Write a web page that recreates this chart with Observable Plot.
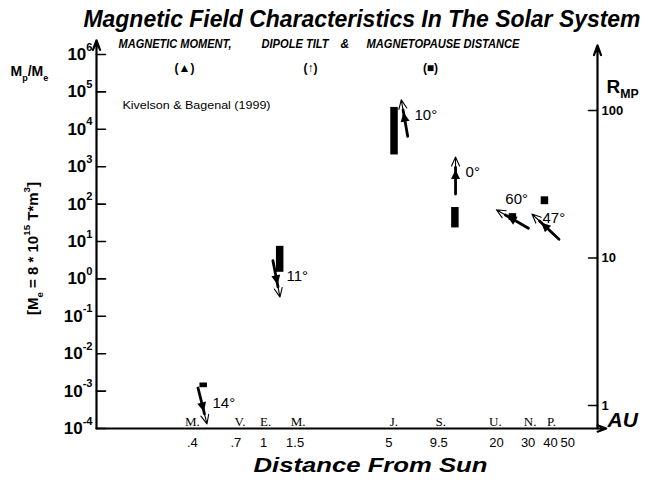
<!DOCTYPE html>
<html>
<head>
<meta charset="utf-8">
<script src="https://cdn.jsdelivr.net/npm/d3@7"></script>
<script src="https://cdn.jsdelivr.net/npm/@observablehq/plot@0.6"></script>
<style>
html, body { margin: 0; padding: 0; background: #fff; }
#chart svg { display: block; }
</style>
</head>
<body>
<div id="chart"></div>
<script>
// ---------------- data ----------------
const planetLetters = ["M", "V", "E", "M", "J", "S", "U", "N", "P"];
const planetAU = [0.39, 0.72, 1, 1.52, 5.2, 9.5, 19.2, 30, 39.5];

const tickAU = [0.4, 0.7, 1, 1.5, 5, 9.5, 20, 30, 40, 50];
const tickAULabels = [".4", ".7", "1", "1.5", "5", "9.5", "20", "30", "40", "50"];

const momentExponents = [-4, -3, -2, -1, 0, 1, 2, 3, 4, 5, 6];
const rmpTicks = [1, 10, 100];

const magPlanets = ["Mercury", "Earth", "Jupiter", "Saturn", "Uranus", "Neptune"];
const magMoment = [4e-4, 1, 2e4, 580, 40, 25];            // Mp / Me
const tiltDeg = [14, 11, 10, 0, 60, 47];                   // dipole tilt
const dipoleSense = ["south", "south", "north", "north", "north", "north"];
const arrowAU = [0.456, 1.18, 6.12, 11.8, 24.5, 37.5];     // AU where the symbols are drawn
const rmpLow = [1.32, 8, 50, 16, 18, 23];                  // magnetopause distance (R_MP)
const rmpHigh = [1.42, 12, 105, 22, 20, 26];
const boxAU = [0.46, 1.23, 5.35, 11.7, 24.5, 37];

// ---------------- layout ----------------
const W = 649, H = 484, ML = 96, MR = 52, MT = 54, MB = 56;
const xDomain = [0.1167, 73.2];
const yDomain = [1e-4, 1e6];
const rmpDomain = [0.698, 240];        // secondary (right) axis domain
const axisTopMomentL = 2.4e6, axisTopMomentR = 1.75e6, axisRightAU = 82;

const SANS = "Liberation Sans, Arial, Helvetica, sans-serif";
const NARROW = "Liberation Sans Narrow, Arial Narrow, Liberation Sans, Arial, sans-serif";
const SERIF = "Liberation Serif, Times New Roman, serif";

const toMoment = r => {
  const l0 = Math.log10(rmpDomain[0]), l1 = Math.log10(rmpDomain[1]);
  const m0 = Math.log10(yDomain[0]), m1 = Math.log10(yDomain[1]);
  return 10 ** (m0 + (m1 - m0) * (Math.log10(r) - l0) / (l1 - l0));
};

const I = d3.range(magPlanets.length);
const rot = i => dipoleSense[i] === "south" ? 180 - tiltDeg[i] : 360 - tiltDeg[i];

const lineShape = {draw(c, l) { c.moveTo(0, 0); c.lineTo(0, -l); }};
const shaftShape = {draw(c, l) { c.moveTo(0, 0); c.lineTo(0, -0.72 * l); }};
const headShape = {draw(c, l) {
  c.moveTo(0, 0); c.lineTo(0, -l);
  c.moveTo(-4, -l + 9); c.lineTo(0, -l); c.lineTo(4, -l + 9);
}};
const triShape = {draw(c, l) {
  const m = -l / 2;
  c.moveTo(0, m - 6); c.lineTo(4.5, m + 3.5); c.lineTo(-4.5, m + 3.5); c.closePath();
}};

const at = (txt, px, py, o = {}) =>
  Plot.text([txt], {frameAnchor: "top-left", dx: px - ML, dy: py - MT, text: d => d,
    fontFamily: SANS, textAnchor: "middle", lineAnchor: "middle", ...o});

const vecBase = {x: i => arrowAU[i], y: i => magMoment[i], rotate: rot, length: 37, anchor: "middle"};
const degText = (filter, dx, dy) => Plot.text(I.filter(filter), {
  x: i => arrowAU[i], y: i => magMoment[i], text: i => `${tiltDeg[i]}°`,
  textAnchor: "start", lineAnchor: "middle", dx, dy, fontSize: 15, fontFamily: SANS
});

const TITLE = "Magnetic Field Characteristics In The Solar System";
const subStyle = {textAnchor: "start", fontSize: 12, fontWeight: "bold", fontStyle: "italic", fontFamily: NARROW};

const chart = Plot.plot({
  width: W, height: H,
  marginLeft: ML, marginRight: MR, marginTop: MT, marginBottom: MB,
  style: {fontFamily: SANS, color: "black", background: "white"},
  x: {type: "log", domain: xDomain, axis: null},
  y: {type: "log", domain: yDomain, axis: null},
  marks: [
    // axes lines
    Plot.arrow([0], {x1: () => xDomain[0], y1: () => yDomain[0], x2: () => xDomain[0], y2: () => axisTopMomentL,
      strokeWidth: 2.2, headLength: 7, headAngle: 40}),
    Plot.arrow([0], {x1: () => xDomain[1], y1: () => yDomain[0], x2: () => xDomain[1], y2: () => axisTopMomentR,
      strokeWidth: 2.2, headLength: 7, headAngle: 40}),
    Plot.arrow([0], {x1: () => xDomain[0], y1: () => yDomain[0], x2: () => axisRightAU, y2: () => yDomain[0],
      strokeWidth: 2, headLength: 7, headAngle: 40}),
    // ticks
    Plot.vector(momentExponents, {y: k => 10 ** k, frameAnchor: "left", rotate: 90, length: 9, anchor: "start",
      shape: lineShape, strokeWidth: 1.6}),
    Plot.vector(rmpTicks, {y: r => toMoment(r), frameAnchor: "right", rotate: 270, length: 9, anchor: "start",
      shape: lineShape, strokeWidth: 1.6}),
    // tick labels
    Plot.text(momentExponents, {y: k => 10 ** k, frameAnchor: "left", dx: -4, textAnchor: "end", lineAnchor: "middle",
      text: k => `10^{${k}}`, fontSize: 17, fontWeight: "bold"}),
    Plot.text(rmpTicks, {y: r => toMoment(r), frameAnchor: "right", dx: 4, textAnchor: "start", lineAnchor: "middle",
      text: r => String(r), fontSize: 13, fontWeight: "bold"}),
    Plot.text(tickAU, {x: d => d, frameAnchor: "bottom", dy: 14, textAnchor: "middle", lineAnchor: "middle",
      text: (d, i) => tickAULabels[i], fontSize: 13}),
    Plot.text(planetLetters, {x: (d, i) => planetAU[i], frameAnchor: "bottom", dy: -7, dx: 2,
      textAnchor: "middle", lineAnchor: "middle",
      text: d => d + ".", fontFamily: SERIF, fontSize: 13}),
    // magnetopause distance boxes
    Plot.ruleX(I, {x: i => boxAU[i], y1: i => toMoment(rmpLow[i]), y2: i => toMoment(rmpHigh[i]),
      strokeWidth: 7.5, stroke: "black"}),
    // dipole arrows with moment triangles
    Plot.vector(I, {...vecBase, shape: shaftShape, strokeWidth: 2.8}),
    Plot.vector(I, {...vecBase, shape: headShape, strokeWidth: 1.1}),
    Plot.vector(I, {...vecBase, shape: triShape, fill: "black", strokeWidth: 1}),
    // tilt labels
    degText(i => i < 4, 10, -3),
    degText(i => magPlanets[i] === "Uranus", -7, -20),
    degText(i => magPlanets[i] === "Neptune", -3, -8),
    // annotations
    at(TITLE, 361.5, 18.5, {fontSize: 24, fontWeight: "bold", fontStyle: "italic", fontFamily: NARROW}),
    at("MAGNETIC MOMENT,", 118, 44, subStyle),
    at("DIPOLE TILT", 261, 44, subStyle),
    at("&", 340, 44, subStyle),
    at("MAGNETOPAUSE DISTANCE", 366, 44, subStyle),
    at("(▲)", 184, 68, {fontSize: 12, fontWeight: "bold"}),
    at("(↑)", 310, 68, {fontSize: 12, fontWeight: "bold"}),
    at("(■)", 430, 68, {fontSize: 12, fontWeight: "bold"}),
    at("M_{p}/M_{e}", 10, 71.5, {textAnchor: "start", fontSize: 14, fontWeight: "bold"}),
    at("Kivelson & Bagenal (1999)", 122, 104.5, {textAnchor: "start", fontSize: 11}),
    at("R_{MP}", 606, 86, {textAnchor: "start", fontSize: 19, fontWeight: "bold"}),
    at("[M_{e} = 8 * 10^{15} T*m^{3}]", 33, 248, {rotate: -90, fontSize: 15, fontWeight: "bold"}),
    at("AU", 607, 420, {textAnchor: "start", fontSize: 21, fontWeight: "bold", fontStyle: "italic"}),
    at("Distance From Sun", 370, 465, {fontSize: 21, fontWeight: "bold", fontStyle: "italic"})
  ]
});

document.getElementById("chart").appendChild(chart);

// fit some texts to measured widths
const fits = {
  [TITLE]: 557,
  "MAGNETIC MOMENT,": 113,
  "DIPOLE TILT": 67,
  "MAGNETOPAUSE DISTANCE": 153,
  "Kivelson & Bagenal (1999)": 148,
  "Distance From Sun": 234
};
d3.select(chart).selectAll("text").each(function () {
  const L = fits[this.textContent];
  if (L) {
    this.setAttribute("textLength", L);
    this.setAttribute("lengthAdjust", "spacingAndGlyphs");
  }
});

// rich text: _{sub} and ^{sup}
d3.select(chart).selectAll("text").each(function () {
  const s = this.textContent;
  if (!/[_^]\{/.test(s)) return;
  const fs = parseFloat(getComputedStyle(this).fontSize) || 12;
  this.textContent = "";
  const parts = s.split(/([_^]\{[^}]*\})/).filter(p => p);
  let shift = 0;
  for (const p of parts) {
    const t = document.createElementNS("http://www.w3.org/2000/svg", "tspan");
    let target = 0, txt = p, small = false;
    if (p.startsWith("_{")) { target = fs * 0.3; txt = p.slice(2, -1); small = true; }
    else if (p.startsWith("^{")) { target = -fs * 0.55; txt = p.slice(2, -1); small = true; }
    t.setAttribute("dy", (target - shift).toFixed(2));
    shift = target;
    if (small) t.setAttribute("font-size", (fs * 0.65).toFixed(1));
    t.textContent = txt;
    this.appendChild(t);
  }
});
</script>
</body>
</html>
